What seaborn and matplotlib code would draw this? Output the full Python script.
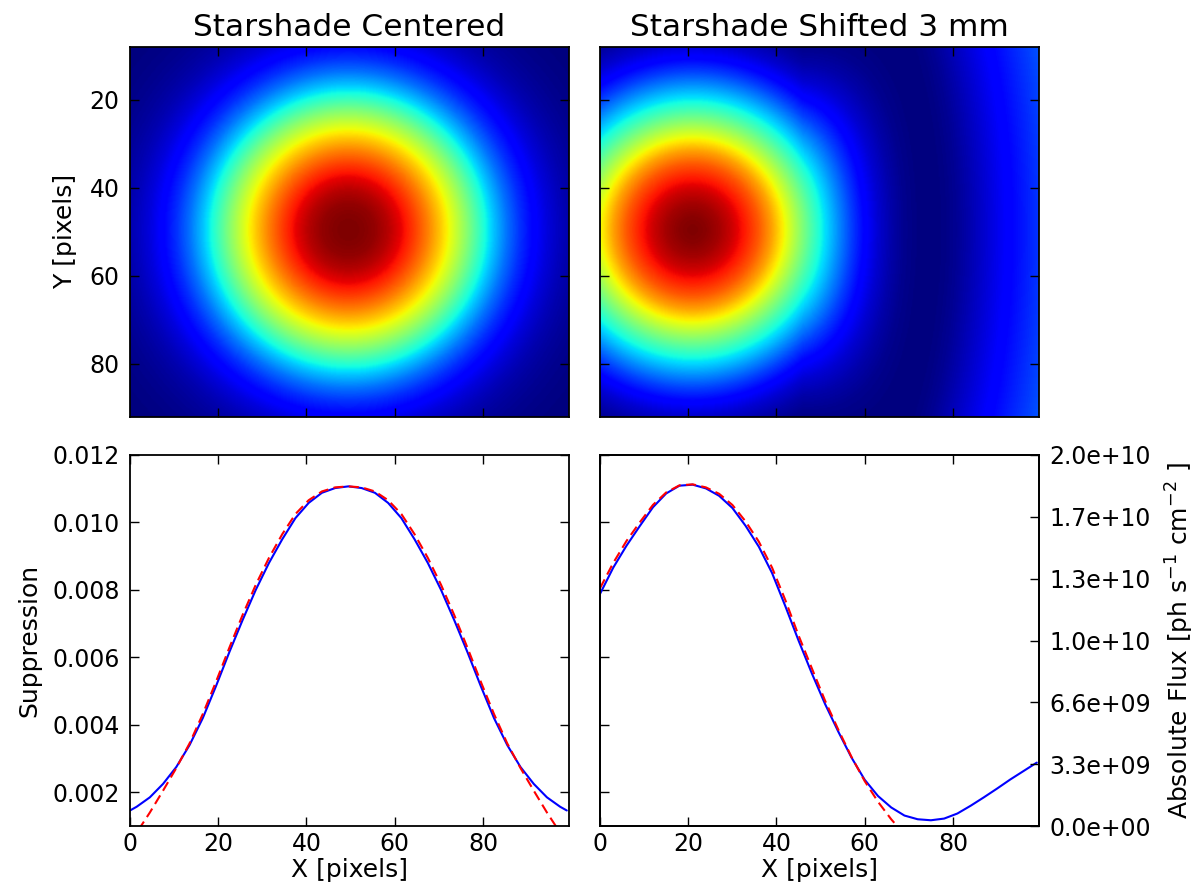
import numpy as np
import matplotlib
matplotlib.use("Agg")
import matplotlib.pyplot as plt
import seaborn as sns

# ---------------- data ----------------
# Centered starshade: horizontal cut through the PSF
x_centered = [0, 1.5, 4.5, 7.5, 10.5, 13.5, 16.5, 19.5, 22.5, 25.5, 28.5, 31.5,
              34.5, 37.5, 40.5, 43.5, 46.5, 49.5, 52.5, 55.5, 58.5, 61.5, 64.5,
              67.5, 70.5, 73.5, 76.5, 79.5, 82.5, 85.5, 88.5, 91.5, 94.5, 97.5, 99]
supp_centered_model = [0.00146, 0.00157, 0.00185, 0.00225, 0.00275, 0.00340, 0.00420,
                       0.00515, 0.00615, 0.00710, 0.00800, 0.00880, 0.00950, 0.01013,
                       0.01058, 0.01088, 0.01102, 0.01107, 0.01102, 0.01088, 0.01058,
                       0.01013, 0.00950, 0.00880, 0.00800, 0.00710, 0.00615, 0.00515,
                       0.00420, 0.00340, 0.00275, 0.00225, 0.00185, 0.00157, 0.00146]
supp_centered_fit = [0.00050, 0.00080, 0.00140, 0.00205, 0.00272, 0.00345, 0.00432,
                     0.00528, 0.00628, 0.00725, 0.00815, 0.00895, 0.00965, 0.01025,
                     0.01066, 0.01092, 0.01104, 0.01107, 0.01104, 0.01092, 0.01066,
                     0.01025, 0.00965, 0.00895, 0.00815, 0.00725, 0.00628, 0.00528,
                     0.00432, 0.00345, 0.00272, 0.00205, 0.00140, 0.00080, 0.00050]

# Shifted starshade (3 mm)
x_shifted = [0, 3, 6, 9, 12, 15, 18, 21, 24, 27, 30, 33, 36, 39, 42, 45, 48, 51,
             54, 57, 60, 63, 66, 69, 72, 75, 78, 81, 84, 87, 90, 93, 96, 99]
supp_shifted_model = [0.00788, 0.00866, 0.00931, 0.00989, 0.01045, 0.01086, 0.01109,
                      0.01112, 0.01101, 0.01079, 0.01043, 0.00990, 0.00928, 0.00850,
                      0.00752, 0.00650, 0.00553, 0.00462, 0.00380, 0.00303, 0.00237,
                      0.00189, 0.00155, 0.00131, 0.00120, 0.00117, 0.00122, 0.00137,
                      0.00160, 0.00185, 0.00211, 0.00238, 0.00263, 0.00288]
x_shifted_fit = [0, 3, 6, 9, 12, 15, 18, 21, 24, 27, 30, 33, 36, 39, 42, 45, 48, 51,
                 54, 57, 60, 63, 66, 69]
supp_shifted_fit = [0.00805, 0.00880, 0.00945, 0.01000, 0.01052, 0.01089, 0.01110,
                    0.01113, 0.01104, 0.01085, 0.01052, 0.01003, 0.00943, 0.00866,
                    0.00770, 0.00665, 0.00568, 0.00472, 0.00386, 0.00305, 0.00233,
                    0.00172, 0.00120, 0.00075]

# Outer parts of the radial profiles (beyond the plotted cuts), for the images
centered_outer_radius = [52, 55, 58, 61, 64, 67, 75]
centered_outer_value = [0.00132, 0.00120, 0.00112, 0.00107, 0.00104, 0.00103, 0.00103]
shifted_outer_radius = [81, 84, 87, 90, 93, 100]
shifted_outer_value = [0.00312, 0.00336, 0.00360, 0.00383, 0.00405, 0.00450]

# PSF centres (pixels)
centered_peak = (49.5, 49.5)
shifted_peak = (21.0, 49.5)

# Ticks / labels
x_ticks = [0, 20, 40, 60, 80]
img_x_ticks = [20, 40, 60, 80]
img_y_ticks = [20, 40, 60, 80]
supp_ticks = [0.002, 0.004, 0.006, 0.008, 0.010, 0.012]
flux_max = 2.0e10
flux_tick_labels = ["0.0e+00", "3.3e+09", "6.6e+09", "1.0e+10",
                    "1.3e+10", "1.7e+10", "2.0e+10"]
titles = ["Starshade Centered", "Starshade Shifted 3 mm"]

# ---------------- style ----------------
sns.set_style("white")
plt.rcParams.update({
    "font.family": ["DejaVu Sans"],
    "text.color": "black",
    "axes.labelcolor": "black",
    "axes.titlecolor": "black",
    "axes.edgecolor": "black",
    "axes.linewidth": 1.3,
    "axes.facecolor": "white",
    "figure.facecolor": "white",
    "xtick.direction": "in",
    "ytick.direction": "in",
    "xtick.top": True,
    "ytick.right": True,
    "xtick.bottom": True,
    "ytick.left": True,
    "xtick.major.size": 6.5,
    "ytick.major.size": 6.5,
    "xtick.major.width": 1.0,
    "ytick.major.width": 1.0,
    "xtick.color": "black",
    "ytick.color": "black",
    "xtick.labelcolor": "black",
    "ytick.labelcolor": "black",
    "xtick.labelsize": 17,
    "ytick.labelsize": 17,
    "xtick.major.pad": 4.5,
    "ytick.major.pad": 7.5,
    "axes.labelsize": 18,
    "axes.titlesize": 22.5,
    "axes.grid": False,
})

W, H = 1198, 894
fig = plt.figure(figsize=(W / 100, H / 100), dpi=100)


def rect(left, top, right, bottom):
    return [left / W, 1 - bottom / H, (right - left) / W, (bottom - top) / H]


ax_tl = fig.add_axes(rect(130, 46.7, 569, 416.7))
ax_tr = fig.add_axes(rect(600, 46.7, 1039, 416.7))
ax_bl = fig.add_axes(rect(130, 455, 569, 826))
ax_br = fig.add_axes(rect(600, 455, 1039, 826))

XLIM = (0, 99.5)
YLIM_IMG = (92, 8)
YLIM_SUPP = (0.001, 0.012)

# ---------------- images (built from the radial profiles) ----------------
n = 400
coords = -0.5 + (np.arange(n) + 0.5) * 100.0 / n
GX, GY = np.meshgrid(coords, coords)

# centered: radius profile = right half of the centered cut + outer part
xc = np.array(x_centered)
half = xc >= centered_peak[0]
c_r = np.concatenate([xc[half] - centered_peak[0], centered_outer_radius])
c_v = np.concatenate([np.array(supp_centered_model)[half], centered_outer_value])
R_c = np.hypot(GX - centered_peak[0], GY - centered_peak[1])
img_centered = np.interp(R_c, c_r, c_v)

# shifted: radius profile = cut to the right of the peak + outer part
xs = np.array(x_shifted, dtype=float)
half_s = xs >= shifted_peak[0]
s_r = np.concatenate([xs[half_s] - shifted_peak[0], shifted_outer_radius])
s_v = np.concatenate([np.array(supp_shifted_model)[half_s], shifted_outer_value])
dx = GX - shifted_peak[0]
dy = GY - shifted_peak[1]
squash = 1 - 0.4 * np.clip((dx - 25) / 25.0, 0, 1)
R_s = np.sqrt(dx ** 2 + (squash * dy) ** 2)
img_shifted = np.interp(R_s, s_r, s_v)

for ax, img, title in [(ax_tl, img_centered, titles[0]), (ax_tr, img_shifted, titles[1])]:
    ax.imshow(img, cmap="jet", extent=(-0.5, 99.5, 99.5, -0.5),
              interpolation="bilinear", aspect="auto")
    ax.set_xlim(*XLIM)
    ax.set_ylim(*YLIM_IMG)
    ax.set_xticks(img_x_ticks)
    ax.set_yticks(img_y_ticks)
    ax.tick_params(labelbottom=False)
    ax.set_title(title, pad=8)
    for s in ax.spines.values():
        s.set_zorder(5)

ax_tl.set_ylabel("Y [pixels]", labelpad=9)
ax_tr.tick_params(labelleft=False)

# ---------------- line plots ----------------
dash = (0, (4.8, 2.6))
sns.lineplot(x=x_centered, y=supp_centered_model, ax=ax_bl, color="b", lw=1.5,
             estimator=None, sort=False)
sns.lineplot(x=x_centered, y=supp_centered_fit, ax=ax_bl, color="r", lw=1.5,
             linestyle=dash, estimator=None, sort=False)
sns.lineplot(x=x_shifted, y=supp_shifted_model, ax=ax_br, color="b", lw=1.5,
             estimator=None, sort=False)
sns.lineplot(x=x_shifted_fit, y=supp_shifted_fit, ax=ax_br, color="r", lw=1.5,
             linestyle=dash, estimator=None, sort=False)

for ax in (ax_bl, ax_br):
    ax.set_xlim(*XLIM)
    ax.set_ylim(*YLIM_SUPP)
    ax.set_xticks(x_ticks)
    ax.set_yticks(supp_ticks)
    ax.set_xlabel("X [pixels]", labelpad=1)
    ax.set_ylabel("")

ax_bl.yaxis.set_major_formatter(matplotlib.ticker.FormatStrFormatter("%.3f"))
ax_bl.set_ylabel("Suppression", labelpad=8)
ax_br.tick_params(labelleft=False)

# twin axis for absolute flux
ax_tw = ax_br.twinx()
ax_tw.set_ylim(0, flux_max)
ax_tw.set_yticks(np.linspace(0, flux_max, len(flux_tick_labels)))
ax_tw.set_yticklabels(flux_tick_labels)
ax_tw.tick_params(axis="y", direction="in", right=True, left=False, labelsize=17,
                  pad=7.5, colors="black")
ax_tw.set_ylabel(r"Absolute Flux [ph s$^{-1}$ cm$^{-2}$ ]", fontsize=18, labelpad=9,
                 color="black")
ax_br.tick_params(axis="y", right=False)

fig.savefig("out.png", dpi=100, facecolor="white")
